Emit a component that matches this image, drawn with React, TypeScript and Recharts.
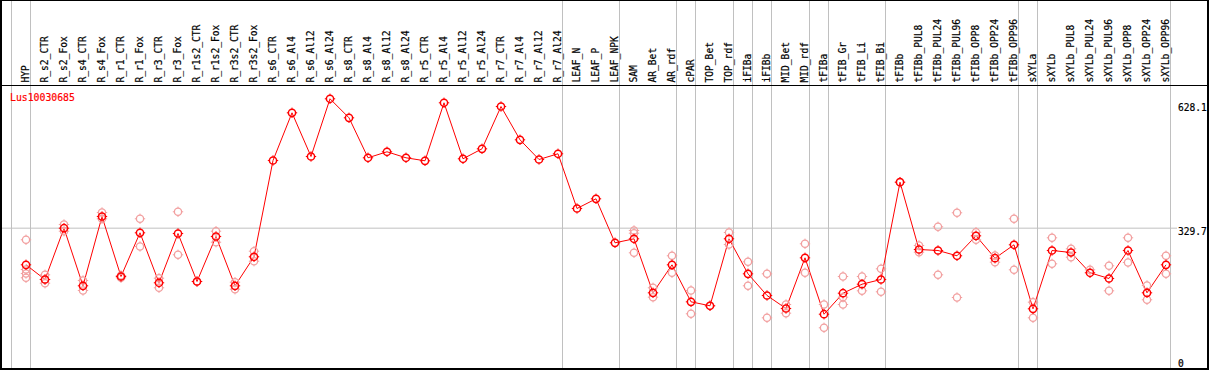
import React from "react";
import { ComposedChart, Line, Scatter, XAxis, YAxis, ReferenceLine } from "recharts";

const geneId = "Lus10030685";

const categories = [
  "HYP", "R_s2_CTR", "R_s2_Fox", "R_s4_CTR", "R_s4_Fox", "R_r1_CTR", "R_r1_Fox", "R_r3_CTR", "R_r3_Fox",
  "R_r1s2_CTR", "R_r1s2_Fox", "R_r3s2_CTR", "R_r3s2_Fox", "R_s6_CTR", "R_s6_Al4", "R_s6_Al12", "R_s6_Al24",
  "R_s8_CTR", "R_s8_Al4", "R_s8_Al12", "R_s8_Al24", "R_r5_CTR", "R_r5_Al4", "R_r5_Al12", "R_r5_Al24",
  "R_r7_CTR", "R_r7_Al4", "R_r7_Al12", "R_r7_Al24", "LEAF_N", "LEAF_P", "LEAF_NPK", "SAM", "AR_Bet", "AR_rdf",
  "cPAR", "TOP_Bet", "TOP_rdf", "iFIBa", "iFIBb", "MID_Bet", "MID_rdf", "tFIBa", "tFIB_Gr", "tFIB_Li", "tFIB_Bi",
  "tFIBb", "tFIBb_PUL8", "tFIBb_PUL24", "tFIBb_PUL96", "tFIBb_OPP8", "tFIBb_OPP24", "tFIBb_OPP96",
  "sXYLa", "sXYLb", "sXYLb_PUL8", "sXYLb_PUL24", "sXYLb_PUL96", "sXYLb_OPP8", "sXYLb_OPP24", "sXYLb_OPP96",
];

const means = [
  241.1, 205.6, 329.6, 190.3, 357.9, 212.8, 318.5, 197.6, 316.8, 200.7, 309.6, 190.3, 260.5,
  493.4, 608.7, 503.0, 642.6, 596.6, 499.9, 514.4, 499.9, 492.6, 632.9, 497.5, 521.6,
  623.9, 543.4, 495.8, 509.6, 377.3, 400.7, 294.3, 304.0, 173.4, 241.1,
  151.6, 142.0, 304.0, 219.3, 166.9, 135.4, 258.0, 121.6, 172.4, 194.2, 205.6,
  440.9, 278.1, 275.7, 262.9, 311.2, 257.1, 289.5,
  134.7, 275.7, 270.9, 221.8, 208.0, 275.7, 173.4, 241.1,
];

const replicates: number[][] = [
  [301.6, 229.7, 220.1, 209.7], [216.9, 196.6, 205.6], [338.6, 322.4], [203.1, 179.0], [367.6, 352.4],
  [215.2, 209.7], [352.4, 285.4], [208.7, 185.5], [369.3, 265.3], [200.7], [322.4, 295.8], [199.0, 182.1],
  [274.0, 249.8],
  [], [], [], [], [], [], [], [], [], [], [], [], [], [], [], [], [], [], [],
  [324.1, 317.5, 270.1], [185.5, 162.8], [262.9, 221.8],
  [179.0, 122.6], [142.0], [319.2, 290.2], [248.4, 190.3], [219.3, 112.9], [145.1, 124.1], [291.9, 221.8],
  [145.1, 88.8], [212.8, 162.8, 145.1], [212.8, 178.2], [231.4, 175.8],
  [440.9], [287.8, 271.6], [333.0, 216.9], [366.9, 162.0], [320.0, 301.6], [263.6, 247.4], [352.4, 229.0],
  [150.7, 112.9], [306.4, 243.5], [279.8, 259.5], [229.0], [238.7, 178.2], [306.4, 246.7], [191.1, 156.5],
  [262.9, 219.3],
];

// index of the last category of each group (-1 = before the first)
const groupEnds = [-1, 0, 28, 31, 34, 35, 37, 38, 39, 41, 42, 45, 52, 53, 60];
const yTicks = [0, 329.7, 628.1];
const gridValue = 329.7;

const X_MIN = -25 / 19;
const X_MAX = 1151 / 19;
const GROUP_OFFSET = 4.5 / 19;
const Y_MIN = -10.88;
const Y_MAX = 881.5;

const W = 1209;
const H = 370;
const PLOT_LEFT = 1;
const PLOT_W = 1176;
const HEADER_Y = 85.5;
const FONT = "'DejaVu Sans Mono', monospace";
const RED = "#ff0000";
const PINK = "#f2a0a0";
const GRAY = "#c0c0c0";

const meanData = categories.map((name, i) => ({ i, name, mean: means[i] }));
const repData = replicates.flatMap((reps, i) => reps.map((rep) => ({ i, rep })));
const separators = groupEnds.map((g) => g + GROUP_OFFSET);
// same linear mapping as the x axis, used for the leading separator drawn in the frame layer
const xPix = (v: number) => PLOT_LEFT + ((v - X_MIN) / (X_MAX - X_MIN)) * PLOT_W;

const Marker = ({ cx, cy, color, sw }: any) => {
  if (cx == null || cy == null) return null;
  const r = 3.6;
  const t = 5.2;
  return (
    <g>
      <circle cx={cx} cy={cy} r={r} fill="none" stroke={color} strokeWidth={sw} />
      <line x1={cx} y1={cy - r} x2={cx} y2={cy - t} stroke={color} strokeWidth={1} />
      <line x1={cx} y1={cy + r} x2={cx} y2={cy + t} stroke={color} strokeWidth={1} />
      <line x1={cx - r} y1={cy} x2={cx - t} y2={cy} stroke={color} strokeWidth={1} />
      <line x1={cx + r} y1={cy} x2={cx + t} y2={cy} stroke={color} strokeWidth={1} />
    </g>
  );
};

const HeaderTick = (props: any) => {
  const { x, payload } = props;
  const label = categories[payload.value];
  if (label == null) return null;
  return (
    <text
      transform={`translate(${x + 2.5}, ${HEADER_Y - 3}) rotate(-90)`}
      fontFamily={FONT}
      fontSize={9.6}
      fill="#000"
      stroke="#000"
      strokeWidth={0.2}
      textAnchor="start"
    >
      {label}
    </text>
  );
};

const ValueTick = (props: any) => {
  const { x, y, payload } = props;
  return (
    <text
      x={x}
      y={Math.min(y + 6.5, 366.5)}
      fontFamily={FONT}
      fontSize={9.6}
      fill="#000"
      stroke="#000"
      strokeWidth={0.2}
      textAnchor="start"
    >
      {String(payload.value)}
    </text>
  );
};

export default function App() {
  return (
    <div style={{ position: "absolute", left: 0, top: 0, width: W, height: H, background: "#fff" }}>
      <ComposedChart width={W} height={H} data={meanData} margin={{ top: 0, right: 0, bottom: 0, left: PLOT_LEFT }}>
        <XAxis
          type="number"
          dataKey="i"
          orientation="bottom"
          height={1}
          domain={[X_MIN, X_MAX]}
          allowDataOverflow
          ticks={categories.map((_, i) => i)}
          interval={0}
          axisLine={false}
          tickLine={false}
          tick={<HeaderTick />}
        />
        <YAxis
          type="number"
          orientation="right"
          width={32}
          domain={[Y_MIN, Y_MAX]}
          allowDataOverflow
          ticks={yTicks}
          interval={0}
          axisLine={false}
          tickLine={false}
          tickSize={0}
          tickMargin={1}
          tick={<ValueTick />}
        />
        <ReferenceLine y={gridValue} stroke={GRAY} strokeWidth={1} />
        {separators.map((s, k) => (
          <ReferenceLine key={"sep" + k} x={s} stroke={GRAY} strokeWidth={1} ifOverflow="visible" />
        ))}
        <Scatter
          data={repData}
          dataKey="rep"
          isAnimationActive={false}
          shape={(p: any) => <Marker cx={p.cx} cy={p.cy} color={PINK} sw={1.3} />}
        />
        <Line
          dataKey="mean"
          stroke={RED}
          strokeWidth={1}
          isAnimationActive={false}
          dot={(p: any) => <Marker key={"m" + p.index} cx={p.cx} cy={p.cy} color={RED} sw={1.5} />}
          activeDot={false}
        />
      </ComposedChart>
      <svg
        width={W}
        height={H}
        style={{ position: "absolute", left: 0, top: 0, pointerEvents: "none" }}
      >
        <line
          x1={xPix(separators[0])}
          y1={0}
          x2={xPix(separators[0])}
          y2={369}
          stroke={GRAY}
          strokeWidth={1}
        />
        <rect x={1} y={0} width={1207} height={369} fill="none" stroke="#000" strokeWidth={2} />
        <line x1={1} y1={HEADER_Y} x2={1208} y2={HEADER_Y} stroke="#000" strokeWidth={1} />
        <text x={10} y={101} fontFamily={FONT} fontSize={9.8} fill={RED} stroke={RED} strokeWidth={0.2}>
          {geneId}
        </text>
      </svg>
    </div>
  );
}
